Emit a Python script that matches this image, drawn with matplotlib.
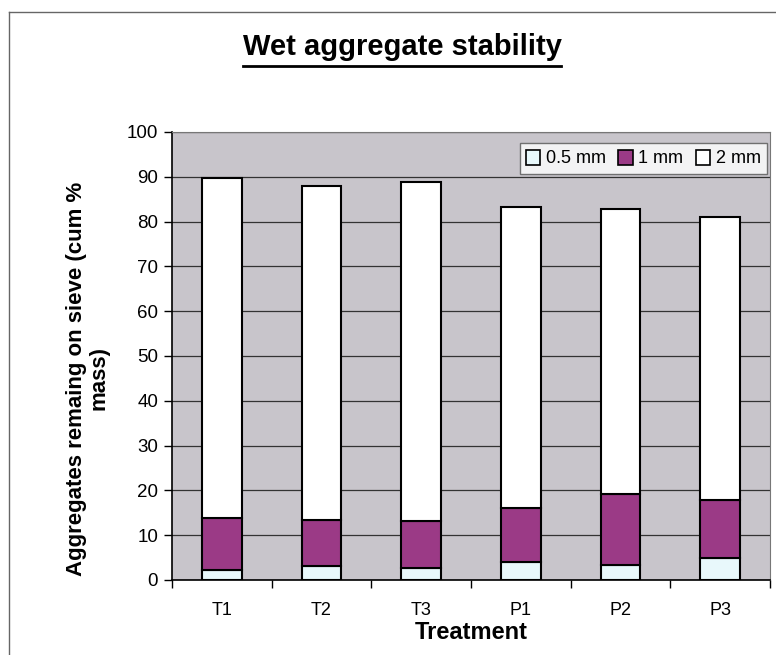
import numpy as np
import matplotlib
matplotlib.use('Agg')
import matplotlib.pyplot as plt
from matplotlib.lines import Line2D
from matplotlib.patches import Patch

plt.rcParams['font.family'] = ['Liberation Sans', 'DejaVu Sans']

treatments = ['T1', 'T2', 'T3', 'P1', 'P2', 'P3']
half_mm = [2.2, 3.2, 2.7, 4.0, 3.3, 4.8]
one_mm = [11.7, 10.3, 10.4, 12.1, 15.9, 13.1]
two_mm = [75.8, 74.5, 75.8, 67.1, 63.6, 63.1]

W, H = 776, 655
fig = plt.figure(figsize=(W / 100, H / 100), dpi=100)
fig.patch.set_facecolor('white')

# plot area in pixels: x 172-770, y 132-580
ax = fig.add_axes([172 / W, 1 - 580 / H, (770 - 172) / W, (580 - 132) / H])
ax.set_facecolor('#c8c5cb')

purple = '#9b3a86'
pale = '#e8f8fb'
x = np.arange(len(treatments))
w = 0.4
b1 = np.array(half_mm)
b2 = b1 + np.array(one_mm)
ax.bar(x, half_mm, w, color=pale, edgecolor='black', linewidth=1.5, zorder=3)
ax.bar(x, one_mm, w, bottom=b1, color=purple, edgecolor='black', linewidth=1.5, zorder=3)
ax.bar(x, two_mm, w, bottom=b2, color='white', edgecolor='black', linewidth=1.5, zorder=3)

ax.set_xlim(-0.5, len(treatments) - 0.5)
ax.set_ylim(0, 100)
ax.set_yticks(np.arange(0, 101, 10))
ax.tick_params(axis='y', labelsize=13.5, direction='out', length=6, width=1, pad=4)
ax.set_xticks(x)
ax.set_xticklabels(treatments, fontsize=13)
ax.tick_params(axis='x', length=0, pad=16)
ax.set_xticks(np.arange(-0.5, len(treatments)), minor=True)
ax.tick_params(axis='x', which='minor', direction='out', length=6, width=1)
ax.yaxis.grid(True, color='#333333', linewidth=0.9, zorder=0)
ax.set_axisbelow(True)
for side in ['top', 'right']:
    ax.spines[side].set_color('#777777')
    ax.spines[side].set_linewidth(0.8)
for side in ['left', 'bottom']:
    ax.spines[side].set_color('black')
    ax.spines[side].set_linewidth(1.2)

ax.set_xlabel('Treatment', fontsize=17, fontweight='bold', labelpad=1)
ax.set_ylabel('Aggregates remaing on sieve (cum %\nmass)', fontsize=16,
              fontweight='bold', linespacing=1.05)
ax.yaxis.set_label_coords(-0.105, 0.45)

handles = [Patch(facecolor=pale, edgecolor='black', linewidth=1.2),
           Patch(facecolor=purple, edgecolor='black', linewidth=1.2),
           Patch(facecolor='white', edgecolor='black', linewidth=1.2)]
leg = ax.legend(handles, ['0.5 mm', '1 mm', '2 mm'], ncol=3, loc='upper right',
                bbox_to_anchor=(0.995, 0.975), fontsize=13, frameon=True,
                fancybox=False, edgecolor='#555555', handlelength=0.8,
                handleheight=0.9, handletextpad=0.3, columnspacing=0.7,
                borderpad=0.35, borderaxespad=0)
leg.get_frame().set_linewidth(1.0)

fig.text(402 / W, 1 - 47 / H, 'Wet aggregate stability', ha='center',
         va='center', fontsize=21, fontweight='bold')
fig.add_artist(Line2D([243 / W, 561 / W], [1 - 66 / H, 1 - 66 / H],
                      color='black', linewidth=2))

# outer chart frame
fig.add_artist(Line2D([9 / W, 1], [1 - 12 / H, 1 - 12 / H], color='#666666', linewidth=1))
fig.add_artist(Line2D([9 / W, 9 / W], [0, 1 - 12 / H], color='#666666', linewidth=1))

fig.savefig('out.png', dpi=100)
